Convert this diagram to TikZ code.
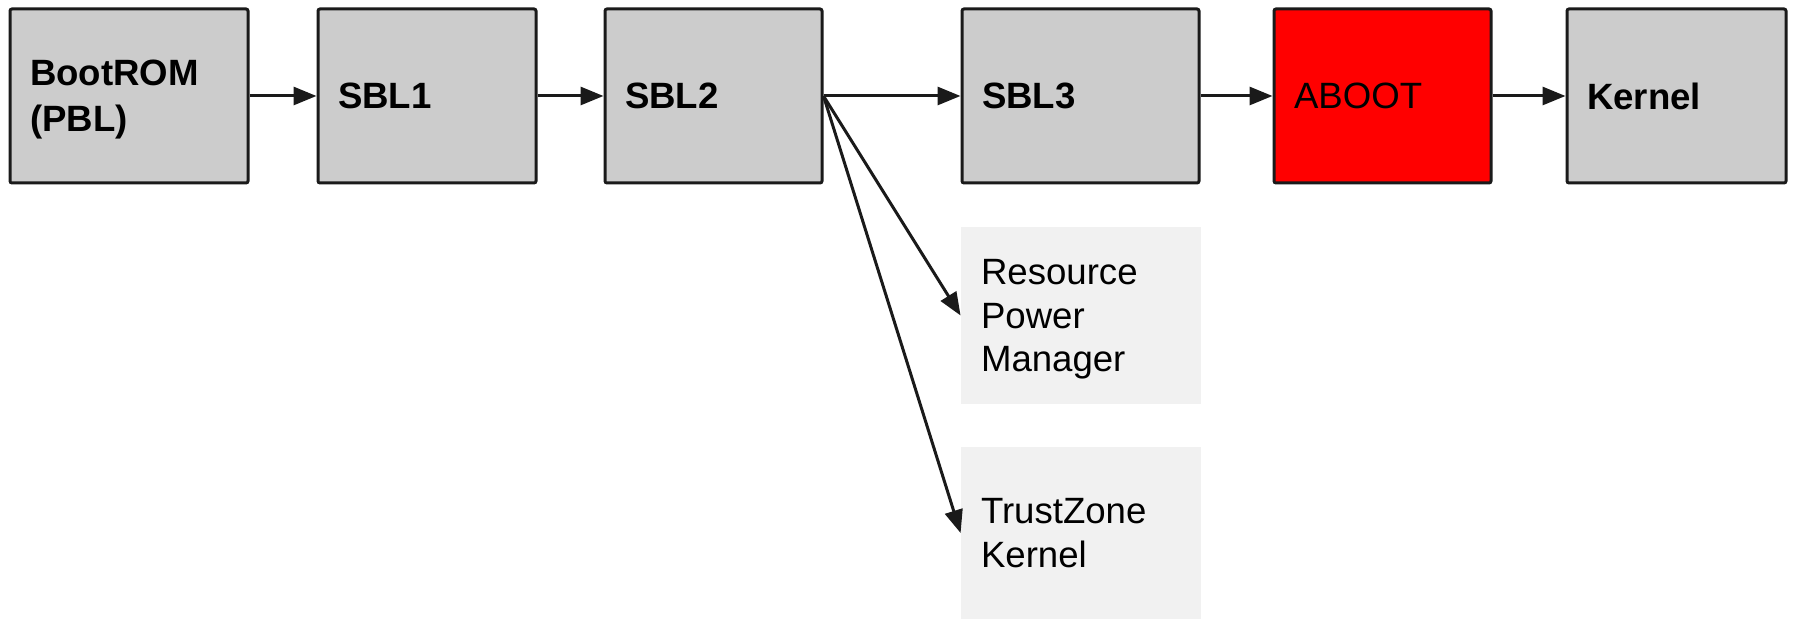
\documentclass[tikz,border=0pt]{standalone}
\usepackage{fontspec}
\setmainfont{Liberation Sans}
\usetikzlibrary{arrows.meta}
\definecolor{boxgray}{HTML}{CCCCCC}
\definecolor{edgecol}{HTML}{1A1A1A}
\definecolor{lightbox}{HTML}{F1F1F1}
\definecolor{abootred}{HTML}{FF0000}
\begin{document}
\begin{tikzpicture}[x=0.5pt,y=-0.5pt,
  stage/.style={draw=edgecol, fill=boxgray, line width=1.5pt, rounded corners=1pt,
    minimum height=87pt, inner xsep=10pt, inner ysep=0pt, align=left,
    font=\fontsize{18.3}{23}\selectfont\bfseries},
  side/.style={fill=lightbox, inner xsep=10pt, inner ysep=0pt, align=left,
    minimum width=120pt, text width=100pt,
    font=\fontsize{18.3}{21.7}\selectfont},
  conn/.style={draw=edgecol, line width=1.5pt, -{Triangle[length=11.5pt,width=9pt]}}]
\useasboundingbox (0,0) rectangle (1793,619);
\node[stage, text width=99pt] (boot) at (129,96) {BootROM\\\smash{(PBL)}};
\node[stage, text width=89pt] (sbl1) at (427,96) {SBL1};
\node[stage, text width=88.5pt] (sbl2) at (713.5,96) {SBL2};
\node[stage, text width=98.5pt] (sbl3) at (1080.5,96) {SBL3};
\node[stage, fill=abootred, text width=88.5pt, font=\fontsize{18.3}{23}\selectfont] (aboot) at (1382.5,96) {ABOOT};
\node[stage, text width=89.5pt] (kern) at (1676.5,96) {Kernel};
\node[side, minimum height=88.5pt] (rpm) at (1081,315.5) {Resource\\Power\\\smash{Manager}};
\node[side, minimum height=86pt] (tz) at (1081,533) {TrustZone\\\smash{Kernel}};
\draw[conn] (boot) -- (sbl1);
\draw[conn] (sbl1) -- (sbl2);
\draw[conn] (sbl2) -- (sbl3);
\draw[conn] (sbl3) -- (aboot);
\draw[conn] (aboot) -- (kern);
\draw[conn] (sbl2.east) -- (rpm.west);
\draw[conn] (sbl2.east) -- (tz.west);
\end{tikzpicture}
\end{document}
